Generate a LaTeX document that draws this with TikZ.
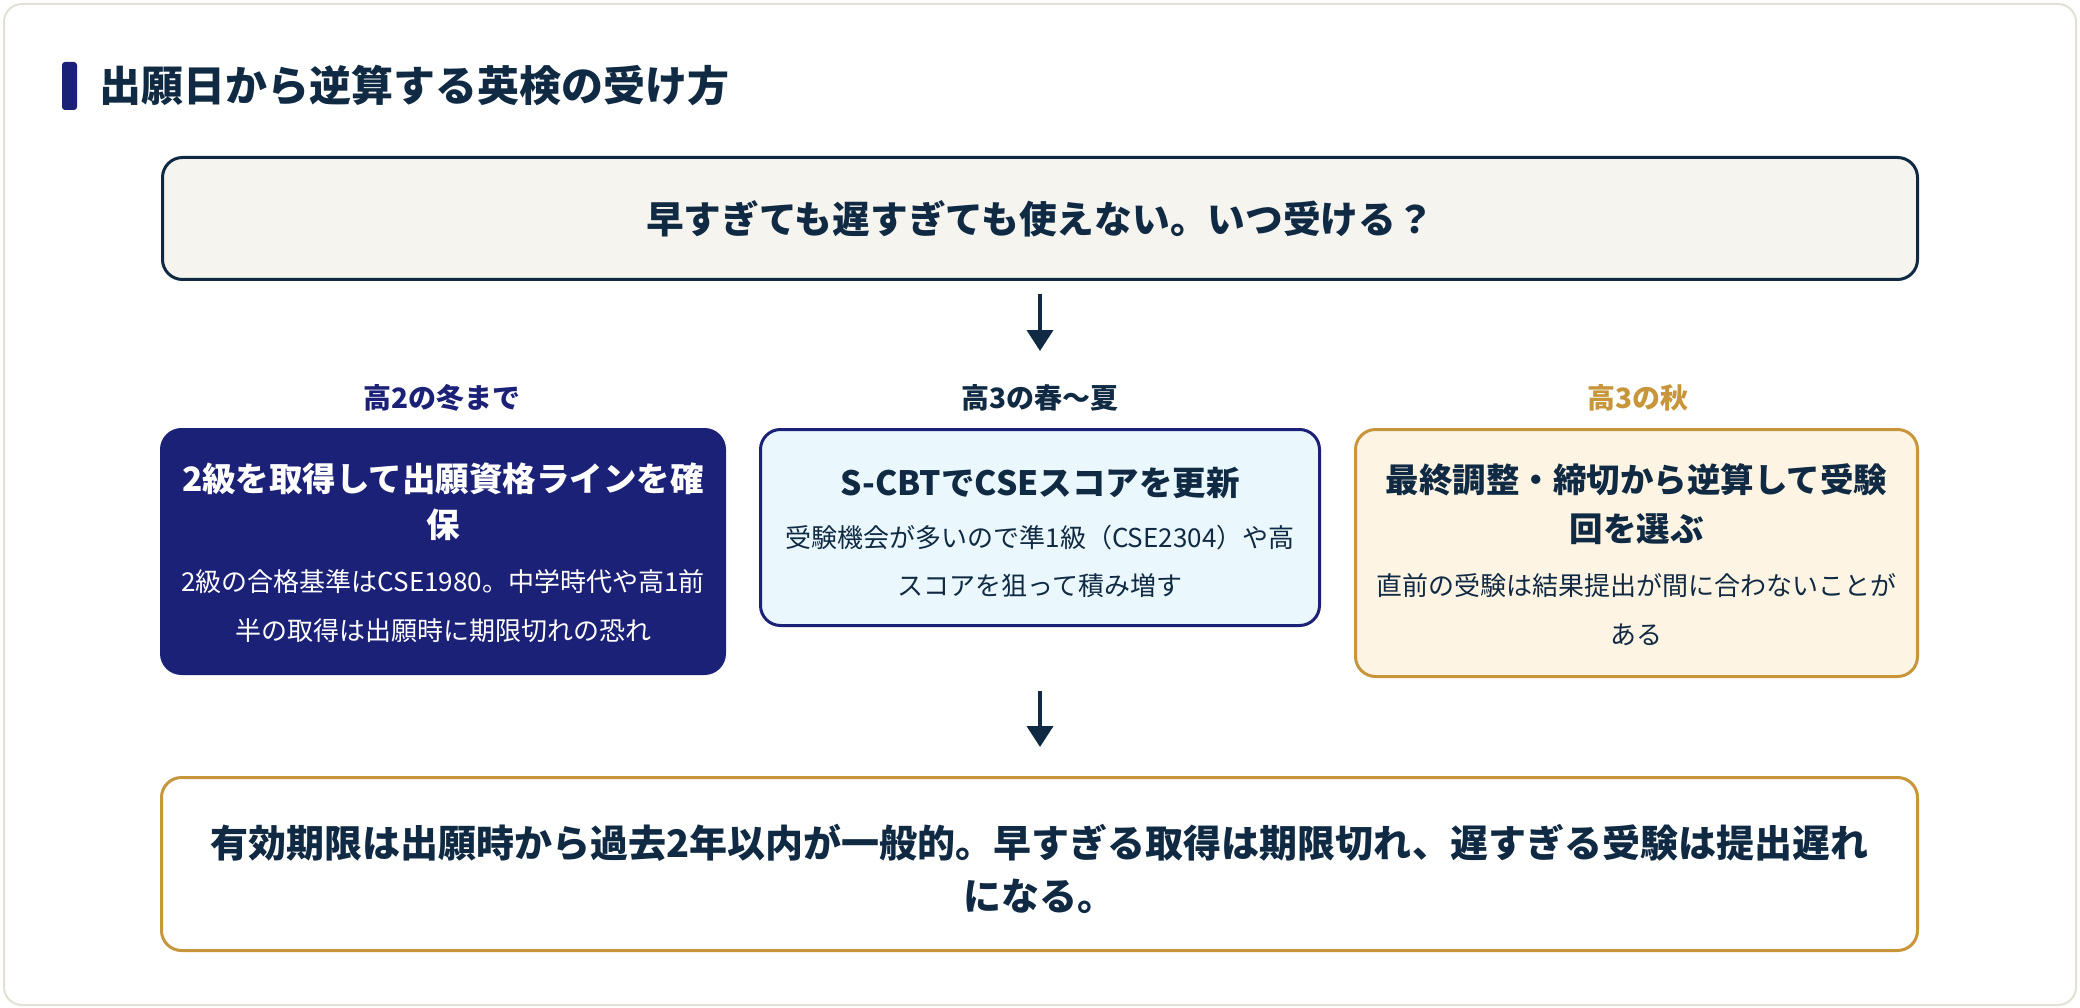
\documentclass[tikz,border=0pt]{standalone}
\usepackage{fontspec}
\setmainfont{Noto Sans CJK JP}
\usetikzlibrary{arrows.meta}
\definecolor{navy}{HTML}{1C2178}
\definecolor{ink}{HTML}{102A43}
\definecolor{gold}{HTML}{C8963A}
\definecolor{topfill}{HTML}{F5F4EF}
\definecolor{bluefill}{HTML}{EAF7FD}
\definecolor{creamfill}{HTML}{FDF4E4}
\definecolor{framecol}{HTML}{E3E0D5}
\tikzset{
  box/.style={rectangle, rounded corners=20pt, line width=3pt, inner sep=0pt, outer sep=0pt},
  txt/.style={inner sep=0pt, outer sep=0pt, align=center},
  arr/.style={draw=ink, line width=4pt, -{Triangle[width=26pt,length=21pt]}},
  ttl/.style={txt, font=\fontsize{33.5}{47}\selectfont\bfseries},
  bdy/.style={txt, font=\fontsize{26}{49}\selectfont},
  lbl/.style={txt, font=\fontsize{28}{34}\selectfont\bfseries}
}
\begin{document}
\begin{tikzpicture}[x=1pt,y=-1pt]
\useasboundingbox (0,0) rectangle (2080,1008);
\fill[white] (0,0) rectangle (2080,1008);
\node[rectangle, rounded corners=18pt, draw=framecol, fill=white, line width=2pt, minimum width=2072pt, minimum height=1001pt] (frame) at (1040,504.5) {};
% heading
\node[rectangle, rounded corners=3pt, fill=navy, minimum width=15pt, minimum height=48pt, inner sep=0pt] (bar) at (69.5,86) {};
\node[txt, anchor=west, text=ink, font=\fontsize{42}{50}\selectfont\bfseries] (head) at (99,86) {出願日から逆算する英検の受け方};
% top question box
\node[box, draw=ink, fill=topfill, minimum width=1755pt, minimum height=122pt] (top) at (1040,218.5) {};
\node[txt, text=ink, font=\fontsize{37.7}{45}\selectfont\bfseries] (topt) at (1040,219) {早すぎても遅すぎても使えない。いつ受ける？};
% labels
\node[lbl, text=navy] (lab1) at (442,398) {高2の冬まで};
\node[lbl, text=ink] (lab2) at (1040,398) {高3の春〜夏};
\node[lbl, text=gold] (lab3) at (1638,398) {高3の秋};
% left box
\node[box, draw=navy, fill=navy, minimum width=563pt, minimum height=244pt] (b1) at (443,551.5) {};
\node[ttl, text=white, font=\fontsize{33.5}{46}\selectfont\bfseries] (b1t) at (443,502) {2級を取得して出願資格ラインを確\\保};
\node[bdy, text=white] (b1b) at (443,606.5) {2級の合格基準はCSE1980。中学時代や高1前\\半の取得は出願時に期限切れの恐れ};
% middle box
\node[box, draw=navy, fill=bluefill, minimum width=559pt, minimum height=196pt] (b2) at (1040,527.5) {};
\node[ttl, text=ink] (b2t) at (1040,483) {S-CBTでCSEスコアを更新};
\node[bdy, text=ink, font=\fontsize{26}{48}\selectfont] (b2b) at (1040,561) {受験機会が多いので準1級（CSE2304）や高\\スコアを狙って積み増す};
% right box
\node[box, draw=gold, fill=creamfill, minimum width=562pt, minimum height=247pt] (b3) at (1636.5,553) {};
\node[ttl, text=ink, font=\fontsize{33.5}{49}\selectfont\bfseries] (b3t) at (1636.5,504.5) {最終調整・締切から逆算して受験\\回を選ぶ};
\node[bdy, text=ink] (b3b) at (1636.5,609.5) {直前の受験は結果提出が間に合わないことが\\ある};
% bottom box
\node[box, draw=gold, fill=white, minimum width=1756pt, minimum height=173pt] (bot) at (1039.5,864) {};
\node[txt, text=ink, font=\fontsize{38}{53}\selectfont\bfseries] (bott) at (1039.5,868.5) {有効期限は出願時から過去2年以内が一般的。早すぎる取得は期限切れ、遅すぎる受験は提出遅れ\\になる。};
% arrows
\coordinate (a1s) at (1040,294);
\coordinate (a1e) at (1040,351);
\draw[arr] (a1s) -- (a1e);
\coordinate (a2s) at (1040,691);
\coordinate (a2e) at (1040,747);
\draw[arr] (a2s) -- (a2e);
\end{tikzpicture}
\end{document}
